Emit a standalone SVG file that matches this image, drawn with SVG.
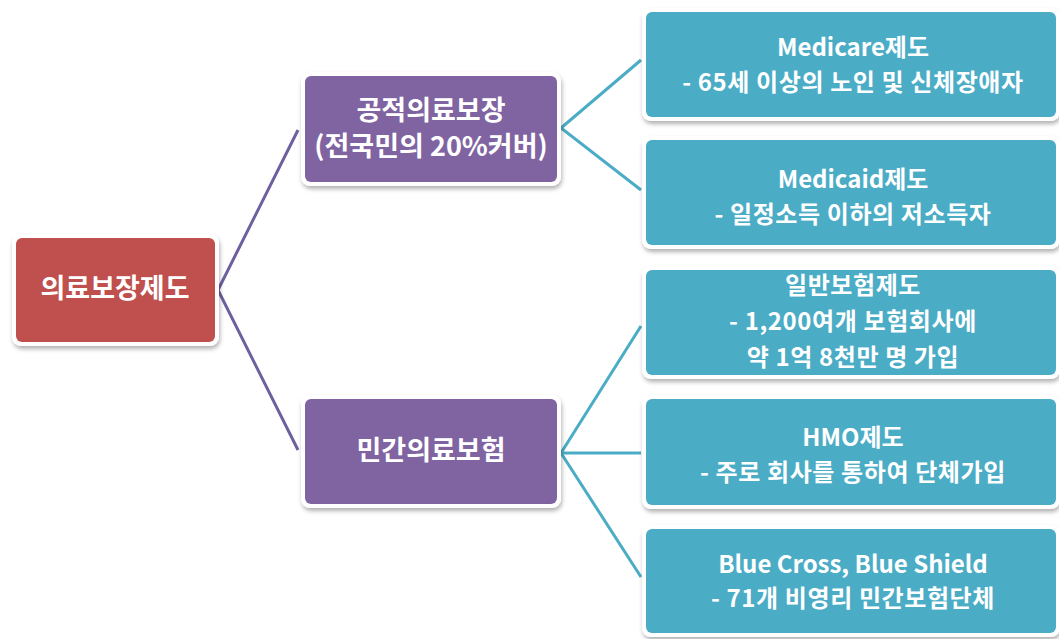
<svg xmlns="http://www.w3.org/2000/svg" width="1059" height="639" viewBox="0 0 1059 639">
<defs>
<filter id="sh" x="-10%" y="-10%" width="120%" height="130%">
<feDropShadow dx="1" dy="3" stdDeviation="2" flood-color="#000" flood-opacity="0.3"/>
</filter>
</defs>
<style>
.frame{fill:#ffffff;filter:url(#sh)}
.red{fill:#c0504d}
.pur{fill:#8064a2}
.blu{fill:#4bacc6}
text{font-family:"Noto Sans CJK KR","Noto Sans",sans-serif;font-weight:bold;fill:#ffffff;text-anchor:middle}
.t27{font-size:27px}
.t28{font-size:27px}
.t24{font-size:24px}
.ls{letter-spacing:0.6px}
.lp{fill:none;stroke:#6e5f9f;stroke-width:3}
.lb{fill:none;stroke:#4bacc6;stroke-width:3}
</style>
<rect width="1059" height="639" fill="#ffffff"/>
<g id="connectors">
<polyline class="lp" points="298,130 218,290 298,450"/>
<polyline class="lb" points="641,60 561,128 641,190"/>
<polyline class="lb" points="641,326 561,453 641,577"/>
<line class="lb" x1="561" y1="453" x2="641" y2="453"/>
</g>
<g id="root">
<rect class="frame" x="12" y="234" width="207" height="112" rx="9"/>
<rect class="red" x="16" y="238" width="199" height="104" rx="6"/>
<text class="t27" x="115" y="298">의료보장제도</text>
</g>
<g id="public">
<rect class="frame" x="301" y="72" width="260" height="114" rx="9"/>
<rect class="pur" x="305" y="76" width="252" height="106" rx="6"/>
<text class="t28" x="431" y="120">공적의료보장</text>
<text class="t28" x="431" y="156">(전국민의 20%커버)</text>
</g>
<g id="private">
<rect class="frame" x="301" y="395" width="260" height="113" rx="9"/>
<rect class="pur" x="305" y="399" width="252" height="105" rx="6"/>
<text class="t27" x="431" y="460">민간의료보험</text>
</g>
<g id="medicare">
<rect class="frame" x="642" y="8" width="418" height="113" rx="9"/>
<rect class="blu" x="646" y="12" width="410" height="105" rx="6"/>
<text class="t24" x="853" y="56">Medicare제도</text>
<text class="t24 ls" x="853" y="91">- 65세 이상의 노인 및 신체장애자</text>
</g>
<g id="medicaid">
<rect class="frame" x="642" y="136" width="418" height="113" rx="9"/>
<rect class="blu" x="646" y="140" width="410" height="105" rx="6"/>
<text class="t24" x="853" y="188">Medicaid제도</text>
<text class="t24 ls" x="853" y="223">- 일정소득 이하의 저소득자</text>
</g>
<g id="general">
<rect class="frame" x="642" y="266" width="418" height="113" rx="9"/>
<rect class="blu" x="646" y="270" width="410" height="105" rx="6"/>
<text class="t24 ls" x="853" y="294">일반보험제도</text>
<text class="t24 ls" x="853" y="330">- 1,200여개 보험회사에</text>
<text class="t24 ls" x="853" y="366">약 1억 8천만 명 가입</text>
</g>
<g id="hmo">
<rect class="frame" x="642" y="395" width="418" height="114" rx="9"/>
<rect class="blu" x="646" y="399" width="410" height="106" rx="6"/>
<text class="t24" x="853" y="446">HMO제도</text>
<text class="t24 ls" x="853" y="481">- 주로 회사를 통하여 단체가입</text>
</g>
<g id="blue">
<rect class="frame" x="642" y="525" width="418" height="112" rx="9"/>
<rect class="blu" x="646" y="529" width="410" height="104" rx="6"/>
<text class="t24" x="853" y="573">Blue Cross, Blue Shield</text>
<text class="t24 ls" x="853" y="607">- 71개 비영리 민간보험단체</text>
</g>
</svg>
